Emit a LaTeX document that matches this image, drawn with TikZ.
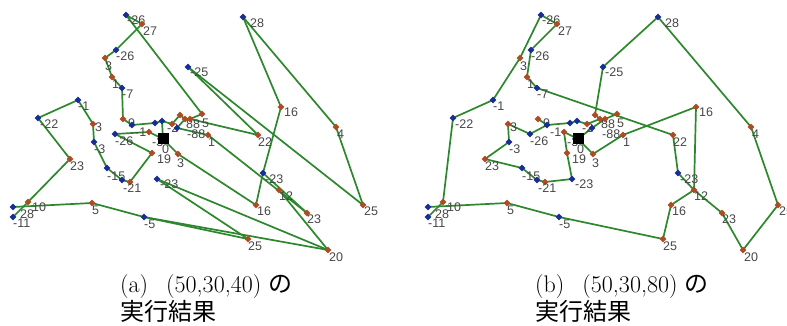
\documentclass[tikz,border=0pt]{standalone}
\usepackage{fontspec}
\newfontfamily\lblfont{Liberation Sans}
\newfontfamily\jpfont{Noto Sans CJK JP}
\usetikzlibrary{shapes.geometric}
\pgfdeclarelayer{bg}
\pgfsetlayers{bg,main}
\definecolor{grn}{RGB}{45,135,45}
\definecolor{blu}{RGB}{25,45,150}
\definecolor{brn}{RGB}{175,75,35}
\definecolor{lbl}{RGB}{70,70,70}
\tikzset{
  route/.style={draw=grn, line width=1.7pt, line cap=round, line join=round},
  bcity/.style={diamond, fill=blu, inner sep=0pt, minimum size=7pt},
  rcity/.style={diamond, fill=brn, inner sep=0pt, minimum size=7pt},
  depot/.style={rectangle, fill=black, inner sep=0pt, minimum size=11pt},
  tag/.style={anchor=north west, inner sep=0pt, text=lbl, font=\lblfont\fontsize{12.5}{13}\selectfont},
  captext/.style={anchor=base west, inner sep=0pt, font=\fontsize{24}{28}\selectfont}
}
% \city{name}{x}{y}{style}{label}{dx}{dy}
\newcommand\city[7]{%
  \node[#4] (#1) at (#2,#3) {};
  \node[tag] (#1t) at ({#2+#6},{#3+#7}) {#5};}
\newcommand\allcities{%
  \city{P1}{126}{15}{bcity}{-26}{1}{1}
  \city{P2}{142}{24}{rcity}{27}{1}{3}
  \city{P3}{116}{50}{bcity}{-26}{0}{2}
  \city{P4}{105}{58}{rcity}{3}{0}{4}
  \city{P5}{112}{77}{rcity}{1}{0}{3}
  \city{P6}{122}{88}{bcity}{-7}{0}{2}
  \city{P7}{78}{100}{bcity}{-1}{0}{2}
  \city{P8}{38}{118}{bcity}{-22}{2}{2}
  \city{P9}{93}{124}{rcity}{3}{2}{-1}
  \city{P10}{94}{142}{bcity}{-3}{0}{3}
  \city{P11}{70}{159}{rcity}{23}{0}{3}
  \city{P12}{107}{168}{bcity}{-15}{0}{4}
  \city{P13}{122}{180}{bcity}{}{0}{0}
  \city{P14}{130}{182}{rcity}{-21}{-7}{2}
  \city{P15}{157}{179}{bcity}{-23}{3}{1}
  \city{P16}{152}{153}{rcity}{19}{5}{2}
  \city{P17}{178}{154}{rcity}{3}{-1}{5}
  \city{P18}{28}{202}{rcity}{10}{4}{1}
  \city{P19}{13}{207}{bcity}{28}{7}{3}
  \city{P20}{13}{217}{bcity}{-11}{0}{2}
  \city{P21}{92}{203}{rcity}{5}{0}{3}
  \city{P22}{144}{217}{bcity}{-5}{0}{3}
  \city{P23}{248}{239}{rcity}{25}{0}{3}
  \city{P24}{243}{17}{bcity}{28}{7}{2}
  \city{P25}{188}{67}{bcity}{-25}{2}{1}
  \city{P26}{281}{107}{rcity}{16}{3}{1}
  \city{P27}{336}{127}{rcity}{4}{1}{3}
  \city{P28}{208}{135}{rcity}{1}{0}{3}
  \city{P29}{258}{135}{rcity}{22}{0}{3}
  \city{P30}{263}{173}{bcity}{-23}{2}{2}
  \city{P31}{279}{190}{rcity}{12}{0}{2}
  \city{P32}{256}{205}{rcity}{16}{1}{2}
  \city{P33}{307}{213}{rcity}{23}{0}{2}
  \city{P34}{363}{205}{rcity}{25}{1}{2}
  \city{P35}{328}{250}{rcity}{20}{1}{3}
  \city{Q1}{123}{119}{rcity}{9}{5}{0}
  \city{Q2}{132}{125}{bcity}{-1}{3}{3}
  \city{Q3}{115}{134}{bcity}{-26}{0}{3}
  \city{Q4}{149}{132}{rcity}{-3}{3}{6}
  \city{Q5}{155}{123}{bcity}{}{0}{0}
  \city{Q6}{162}{121}{bcity}{-2}{5}{3}
  \city{Q7}{172}{124}{rcity}{}{0}{0}
  \city{Q8}{180}{115}{rcity}{}{0}{0}
  \city{Q9}{185}{119}{rcity}{88}{1}{1}
  \city{Q10}{190}{119}{rcity}{}{0}{0}
  \city{Q11}{177}{128}{bcity}{-88}{10}{2}
  \city{Q12}{202}{114}{rcity}{5}{0}{5}
  \city{D}{163}{139}{depot}{0}{-1}{6}
}
\begin{document}
\begin{tikzpicture}[x=1pt,y=-1pt]
\useasboundingbox (0,0) rectangle (787,326);
% panel (a)
\begin{scope}[name prefix=a-]
  \allcities
  \begin{pgfonlayer}{bg}
  \foreach \u/\v in {P1/P2,P2/P3,P3/P4,P4/P5,P5/P6,P6/Q1,P1/Q12,P8/P7,P7/P9,
      P9/P10,P10/P12,P12/P13,P13/P14,P14/P16,P16/Q3,P8/P11,P11/P18,P18/P20,
      P19/P21,P21/P22,P22/P35,P22/P23,P15/P23,P15/P35,P31/P35,P24/P26,P24/P27,
      P27/P34,P25/P34,P25/P29,P26/P30,P30/P32,P17/P32,P28/P33,P30/P33,Q10/P29,
      P28/Q11,D/P17,Q3/Q4,Q1/Q2,Q2/Q5,Q5/Q6,Q6/Q7,Q7/Q8,Q8/Q9,Q9/Q10,Q10/Q12,
      Q11/Q9,Q4/D,D/Q6}
    \draw[route] (\u.center) -- (\v.center);
  \end{pgfonlayer}
\end{scope}
% panel (b)
\begin{scope}[xshift=415pt, name prefix=b-]
  \allcities
  \begin{pgfonlayer}{bg}
  \foreach \u/\v in {P1/P2,P2/P3,P3/P5,P5/P6,P6/P29,P29/P30,P30/P31,P31/P32,
      P32/P23,P23/P22,P22/P21,P21/P19,P20/P18,P18/P8,P8/P7,P7/P4,P4/P1,
      P9/P10,P10/P11,P11/P12,P12/P13,P13/P14,P14/P15,P15/P16,P16/Q4,Q4/D,
      D/P17,P17/P28,P28/P26,P26/P31,P31/P33,P33/P35,P35/P34,P34/P27,P27/P24,
      P24/P25,P25/Q8,P9/Q3,Q3/Q2,Q2/Q5,Q5/Q6,Q6/Q7,Q7/Q9,Q9/Q10,Q10/Q12,
      Q8/Q9,D/Q11,Q11/Q10,Q1/Q2}
    \draw[route] (\u.center) -- (\v.center);
  \end{pgfonlayer}
\end{scope}
% captions
\node[captext] (capa1) at (120,292) {(a)\hspace{18pt}(50,30,40) {\jpfont の}};
\node[captext] (capa2) at (120,320) {\jpfont 実行結果};
\node[captext] (capb1) at (535,292) {(b)\hspace{18pt}(50,30,80) {\jpfont の}};
\node[captext] (capb2) at (535,320) {\jpfont 実行結果};
\end{tikzpicture}
\end{document}
